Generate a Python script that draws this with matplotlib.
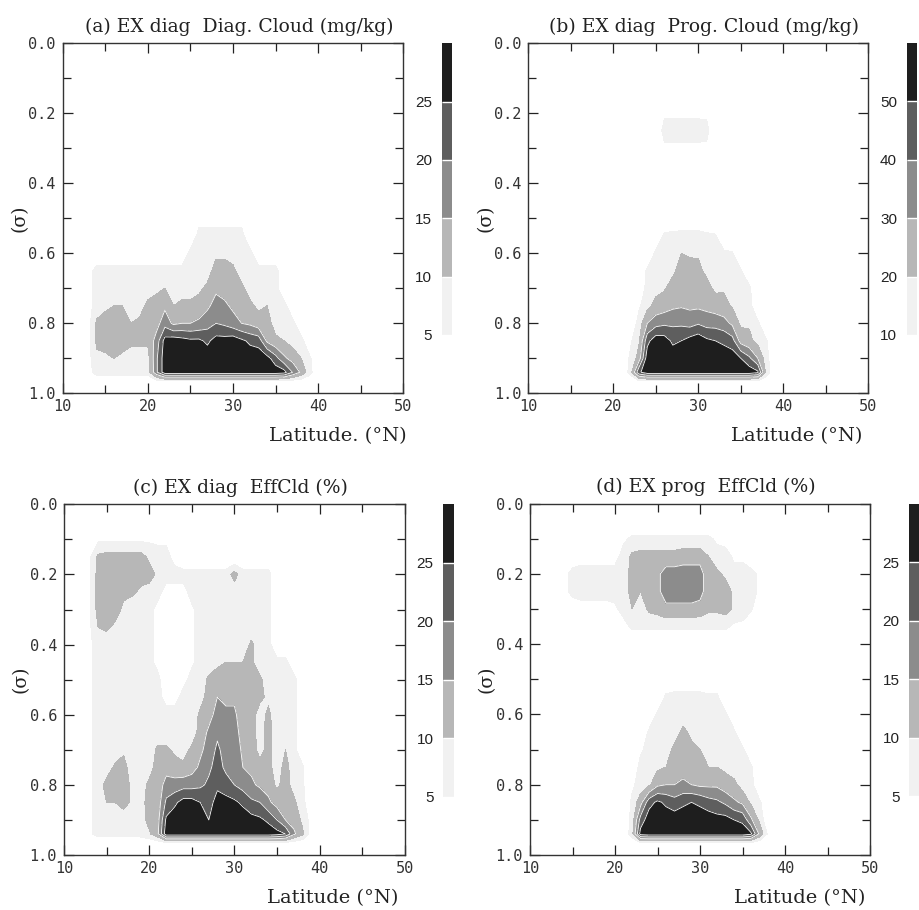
import numpy as np
import matplotlib
matplotlib.use("Agg")
import matplotlib.pyplot as plt
from matplotlib.ticker import MultipleLocator

plt.rcParams["font.family"] = ["Liberation Sans", "DejaVu Sans"]

# grid of the fields: latitude columns (deg N) and sigma levels (top -> bottom)
LAT = [12, 13, 14, 15, 16, 17, 18, 19, 20, 21, 22, 23, 24, 25, 26, 27, 28, 29, 30,
       31, 32, 33, 34, 35, 36, 37, 38, 39, 40]
SIGMA = [0.05, 0.10, 0.15, 0.20, 0.25, 0.30, 0.35, 0.40, 0.45, 0.50,
         0.55, 0.60, 0.65, 0.70, 0.75, 0.80, 0.85, 0.90, 0.94, 0.97]

# (a) EX diag, diagnostic cloud (mg/kg); one row per latitude, values at SIGMA
DIAG_CLOUD = [
    [0, 0, 0, 0, 0, 0, 0, 0, 0, 0, 0, 0, 0, 0, 0, 0, 0, 0, 0, 0],          # 12
    [0, 0, 0, 0, 0, 0, 0, 0, 0, 0, 0, 0, 3, 3, 3, 3, 3, 3, 3, 0],          # 13
    [0, 0, 0, 0, 0, 0, 0, 0, 0, 0, 0, 0, 7, 7, 7, 11, 11, 9, 7, 0],        # 14
    [0, 0, 0, 0, 0, 0, 0, 0, 0, 0, 0, 0, 7, 7, 9, 12, 12, 9, 7, 0],        # 15
    [0, 0, 0, 0, 0, 0, 0, 0, 0, 0, 0, 0, 7, 7, 10, 12, 12, 10, 7, 0],      # 16
    [0, 0, 0, 0, 0, 0, 0, 0, 0, 0, 0, 0, 7, 7, 10, 12, 12, 9, 7, 0],       # 17
    [0, 0, 0, 0, 0, 0, 0, 0, 0, 0, 0, 0, 7, 7, 7, 10, 11, 8, 7, 0],        # 18
    [0, 0, 0, 0, 0, 0, 0, 0, 0, 0, 0, 0, 7, 7, 8, 11, 11, 8, 7, 0],        # 19
    [0, 0, 0, 0, 0, 0, 0, 0, 0, 0, 0, 0, 7, 8, 11, 12, 11, 8, 7, 0],       # 20
    [0, 0, 0, 0, 0, 0, 0, 0, 0, 0, 0, 0, 7, 9, 12, 13, 17, 19, 19, 0],     # 21
    [0, 0, 0, 0, 0, 0, 0, 0, 0, 0, 0, 0, 7, 10, 14, 18, 27, 28, 28, 0],    # 22
    [0, 0, 0, 0, 0, 0, 0, 0, 0, 0, 0, 0, 7, 8, 10, 14, 28, 28, 28, 0],     # 23
    [0, 0, 0, 0, 0, 0, 0, 0, 0, 0, 0, 0, 7, 8, 11, 15, 27, 28, 28, 0],     # 24
    [0, 0, 0, 0, 0, 0, 0, 0, 0, 0, 0, 7, 7, 8, 11, 15, 26, 28, 28, 0],     # 25
    [0, 0, 0, 0, 0, 0, 0, 0, 0, 3, 7, 7, 7, 9, 12, 16, 26, 28, 28, 0],     # 26
    [0, 0, 0, 0, 0, 0, 0, 0, 0, 3, 7, 7, 8, 11, 14, 18, 24, 28, 28, 0],    # 27
    [0, 0, 0, 0, 0, 0, 0, 0, 0, 3, 7, 9, 12, 14, 17, 20, 27, 28, 28, 0],   # 28
    [0, 0, 0, 0, 0, 0, 0, 0, 0, 3, 7, 9, 12, 13, 16, 19, 27, 28, 28, 0],   # 29
    [0, 0, 0, 0, 0, 0, 0, 0, 0, 3, 7, 8, 11, 13, 14, 17, 28, 28, 28, 0],   # 30
    [0, 0, 0, 0, 0, 0, 0, 0, 0, 3, 7, 7, 8, 11, 13, 15, 26, 28, 28, 0],    # 31
    [0, 0, 0, 0, 0, 0, 0, 0, 0, 0, 0, 7, 7, 8, 11, 14, 24, 28, 28, 0],     # 32
    [0, 0, 0, 0, 0, 0, 0, 0, 0, 0, 0, 0, 7, 7, 9, 12, 23, 28, 28, 0],      # 33
    [0, 0, 0, 0, 0, 0, 0, 0, 0, 0, 0, 0, 7, 7, 10, 12, 14, 27, 28, 0],     # 34
    [0, 0, 0, 0, 0, 0, 0, 0, 0, 0, 0, 0, 7, 7, 7, 8, 11, 22, 28, 0],       # 35
    [0, 0, 0, 0, 0, 0, 0, 0, 0, 0, 0, 0, 0, 0, 7, 8, 10, 16, 27, 0],       # 36
    [0, 0, 0, 0, 0, 0, 0, 0, 0, 0, 0, 0, 0, 0, 0, 7, 8, 13, 20, 0],        # 37
    [0, 0, 0, 0, 0, 0, 0, 0, 0, 0, 0, 0, 0, 0, 0, 0, 7, 10, 14, 0],        # 38
    [0, 0, 0, 0, 0, 0, 0, 0, 0, 0, 0, 0, 0, 0, 0, 0, 0, 6, 7, 0],          # 39
    [0, 0, 0, 0, 0, 0, 0, 0, 0, 0, 0, 0, 0, 0, 0, 0, 0, 0, 0, 0],          # 40
]

# (b) EX diag, prognostic cloud (mg/kg)
PROG_CLOUD = [
    [0, 0, 0, 0, 0, 0, 0, 0, 0, 0, 0, 0, 0, 0, 0, 0, 0, 0, 0, 0],           # 12
    [0, 0, 0, 0, 0, 0, 0, 0, 0, 0, 0, 0, 0, 0, 0, 0, 0, 0, 0, 0],           # 13
    [0, 0, 0, 0, 0, 0, 0, 0, 0, 0, 0, 0, 0, 0, 0, 0, 0, 0, 0, 0],           # 14
    [0, 0, 0, 0, 0, 0, 0, 0, 0, 0, 0, 0, 0, 0, 0, 0, 0, 0, 0, 0],           # 15
    [0, 0, 0, 0, 0, 0, 0, 0, 0, 0, 0, 0, 0, 0, 0, 0, 0, 0, 0, 0],           # 16
    [0, 0, 0, 0, 0, 0, 0, 0, 0, 0, 0, 0, 0, 0, 0, 0, 0, 0, 0, 0],           # 17
    [0, 0, 0, 0, 0, 0, 0, 0, 0, 0, 0, 0, 0, 0, 0, 0, 0, 0, 0, 0],           # 18
    [0, 0, 0, 0, 0, 0, 0, 0, 0, 0, 0, 0, 0, 0, 0, 0, 0, 0, 0, 0],           # 19
    [0, 0, 0, 0, 0, 0, 0, 0, 0, 0, 0, 0, 0, 0, 0, 0, 0, 0, 0, 0],           # 20
    [0, 0, 0, 0, 0, 0, 0, 0, 0, 0, 0, 0, 0, 0, 0, 0, 0, 0, 0, 0],           # 21
    [0, 0, 0, 0, 0, 0, 0, 0, 0, 0, 0, 0, 0, 0, 0, 0, 8, 12, 14, 0],         # 22
    [0, 0, 0, 0, 0, 0, 0, 0, 0, 0, 0, 0, 0, 0, 8, 14, 18, 24, 48, 0],       # 23
    [0, 0, 0, 0, 0, 0, 0, 0, 0, 0, 0, 0, 12, 14, 17, 30, 47, 56, 56, 0],    # 24
    [0, 0, 0, 0, 0, 0, 0, 0, 0, 0, 0, 12, 14, 17, 23, 36, 56, 56, 56, 0],   # 25
    [0, 0, 0, 8, 14, 8, 0, 0, 0, 0, 12, 14, 16, 19, 25, 38, 55, 56, 56, 0], # 26
    [0, 0, 0, 8, 14, 8, 0, 0, 0, 0, 13, 15, 18, 24, 28, 38, 48, 56, 56, 0], # 27
    [0, 0, 0, 8, 14, 8, 0, 0, 0, 0, 14, 20, 24, 26, 29, 38, 50, 56, 56, 0], # 28
    [0, 0, 0, 8, 14, 8, 0, 0, 0, 0, 14, 19, 23, 26, 28, 36, 54, 56, 56, 0], # 29
    [0, 0, 0, 8, 14, 8, 0, 0, 0, 0, 14, 19, 22, 25, 28, 39, 57, 56, 56, 0], # 30
    [0, 0, 0, 8, 13, 8, 0, 0, 0, 0, 12, 14, 18, 23, 27, 36, 52, 56, 56, 0], # 31
    [0, 0, 0, 0, 0, 0, 0, 0, 0, 0, 11, 13, 15, 18, 25, 36, 50, 56, 56, 0],  # 32
    [0, 0, 0, 0, 0, 0, 0, 0, 0, 0, 0, 12, 14, 19, 23, 34, 48, 56, 56, 0],   # 33
    [0, 0, 0, 0, 0, 0, 0, 0, 0, 0, 0, 11, 13, 16, 19, 28, 44, 56, 56, 0],   # 34
    [0, 0, 0, 0, 0, 0, 0, 0, 0, 0, 0, 0, 11, 13, 15, 18, 26, 50, 56, 0],    # 35
    [0, 0, 0, 0, 0, 0, 0, 0, 0, 0, 0, 0, 0, 12, 14, 19, 22, 42, 56, 0],     # 36
    [0, 0, 0, 0, 0, 0, 0, 0, 0, 0, 0, 0, 0, 0, 0, 12, 17, 30, 52, 0],       # 37
    [0, 0, 0, 0, 0, 0, 0, 0, 0, 0, 0, 0, 0, 0, 0, 0, 11, 14, 17, 0],        # 38
    [0, 0, 0, 0, 0, 0, 0, 0, 0, 0, 0, 0, 0, 0, 0, 0, 0, 0, 0, 0],           # 39
    [0, 0, 0, 0, 0, 0, 0, 0, 0, 0, 0, 0, 0, 0, 0, 0, 0, 0, 0, 0],           # 40
]

# (c) EX diag, effective cloud (%)
EFFCLD_DIAG = [
    [0, 0, 0, 0, 0, 0, 0, 0, 0, 0, 0, 0, 0, 0, 0, 0, 0, 0, 0, 0],               # 12
    [0, 4, 4, 4, 4, 4, 4, 4, 4, 4, 4, 4, 4, 4, 4, 4, 4, 4, 4, 0],               # 13
    [0, 4, 11, 12, 12, 12, 10, 7, 7, 7, 7, 7, 7, 7, 7, 7, 7, 7, 7, 0],          # 14
    [0, 4, 12, 12, 12, 12, 11, 7, 7, 7, 7, 7, 7, 7, 7, 12, 10, 7, 7, 0],        # 15
    [0, 4, 12, 12, 12, 12, 9, 7, 7, 7, 7, 7, 7, 7, 11, 12, 10, 7, 7, 0],        # 16
    [0, 4, 12, 12, 11, 9, 7, 7, 7, 7, 7, 7, 7, 9, 12, 12, 12, 7, 7, 0],         # 17
    [0, 4, 12, 12, 11, 7, 7, 7, 7, 7, 7, 7, 7, 7, 7, 9, 9, 7, 7, 0],            # 18
    [0, 4, 12, 12, 9, 7, 7, 7, 7, 7, 7, 7, 7, 7, 7, 8, 8, 7, 7, 0],             # 19
    [0, 4, 9, 12, 8, 7, 7, 7, 7, 7, 7, 7, 7, 7, 8, 11, 12, 12, 9, 0],           # 20
    [0, 4, 7, 9, 7, 3, 3, 3, 3, 7, 7, 7, 7, 11, 12, 12, 12, 13, 14, 0],         # 21
    [0, 4, 7, 7, 3, 0, 0, 0, 0, 0, 3, 7, 7, 11, 13, 17, 21, 26, 28, 0],         # 22
    [0, 0, 3, 7, 3, 0, 0, 0, 0, 0, 3, 7, 7, 9, 12, 17, 24, 28, 28, 0],          # 23
    [0, 0, 0, 7, 3, 0, 0, 0, 0, 3, 7, 7, 7, 8, 11, 18, 27, 28, 28, 0],          # 24
    [0, 0, 0, 7, 7, 4, 4, 4, 4, 7, 7, 7, 7, 11, 13, 18, 27, 28, 28, 0],         # 25
    [0, 0, 0, 7, 7, 7, 7, 7, 7, 7, 8, 11, 12, 14, 16, 19, 25, 28, 28, 0],       # 26
    [0, 0, 0, 7, 7, 7, 7, 7, 7, 11, 12, 13, 16, 17, 19, 21, 23, 25, 28, 0],     # 27
    [0, 0, 0, 7, 7, 7, 7, 7, 9, 12, 15, 17, 19, 21, 22, 24, 27, 28, 28, 0],     # 28
    [0, 0, 0, 7, 7, 7, 7, 7, 10, 12, 14, 16, 17, 18, 19, 22, 27, 28, 28, 0],    # 29
    [0, 0, 0, 12, 7, 7, 7, 7, 10, 12, 14, 16, 17, 18, 19, 20, 26, 28, 28, 0],   # 30
    [0, 0, 0, 7, 7, 7, 7, 7, 10, 11, 12, 12, 13, 14, 15, 18, 24, 28, 28, 0],    # 31
    [0, 0, 0, 7, 7, 7, 7, 11, 11, 12, 12, 12, 12, 13, 14, 16, 21, 27, 28, 0],   # 32
    [0, 0, 0, 7, 7, 7, 7, 7, 7, 11, 11, 8, 8, 8, 12, 14, 20, 26, 28, 0],        # 33
    [0, 0, 0, 7, 7, 7, 7, 7, 7, 7, 9, 11, 12, 12, 12, 13, 16, 24, 28, 0],       # 34
    [0, 0, 0, 0, 0, 0, 0, 0, 7, 7, 7, 7, 7, 7, 7, 9, 13, 20, 27, 0],            # 35
    [0, 0, 0, 0, 0, 0, 0, 0, 7, 7, 7, 7, 7, 10, 12, 12, 12, 15, 25, 0],         # 36
    [0, 0, 0, 0, 0, 0, 0, 0, 0, 7, 7, 7, 7, 7, 7, 8, 11, 13, 16, 0],            # 37
    [0, 0, 0, 0, 0, 0, 0, 0, 0, 0, 0, 0, 0, 0, 6, 6, 7, 9, 11, 0],              # 38
    [0, 0, 0, 0, 0, 0, 0, 0, 0, 0, 0, 0, 0, 0, 0, 0, 0, 3, 3, 0],               # 39
    [0, 0, 0, 0, 0, 0, 0, 0, 0, 0, 0, 0, 0, 0, 0, 0, 0, 0, 0, 0],               # 40
]

# (d) EX prog, effective cloud (%)
EFFCLD_PROG = [
    [0, 0, 0, 0, 0, 0, 0, 0, 0, 0, 0, 0, 0, 0, 0, 0, 0, 0, 0, 0],               # 12
    [0, 0, 0, 0, 0, 0, 0, 0, 0, 0, 0, 0, 0, 0, 0, 0, 0, 0, 0, 0],               # 13
    [0, 0, 0, 4, 4, 0, 0, 0, 0, 0, 0, 0, 0, 0, 0, 0, 0, 0, 0, 0],               # 14
    [0, 0, 3, 6, 6, 3, 0, 0, 0, 0, 0, 0, 0, 0, 0, 0, 0, 0, 0, 0],               # 15
    [0, 0, 3, 7, 7, 3, 0, 0, 0, 0, 0, 0, 0, 0, 0, 0, 0, 0, 0, 0],               # 16
    [0, 0, 3, 7, 7, 3, 0, 0, 0, 0, 0, 0, 0, 0, 0, 0, 0, 0, 0, 0],               # 17
    [0, 0, 3, 7, 7, 3, 0, 0, 0, 0, 0, 0, 0, 0, 0, 0, 0, 0, 0, 0],               # 18
    [0, 0, 3, 7, 7, 3, 0, 0, 0, 0, 0, 0, 0, 0, 0, 0, 0, 0, 0, 0],               # 19
    [0, 0, 3, 7, 7, 4, 0, 0, 0, 0, 0, 0, 0, 0, 0, 0, 0, 0, 0, 0],               # 20
    [0, 4, 7, 7, 7, 7, 3, 0, 0, 0, 0, 0, 0, 0, 0, 0, 0, 0, 0, 0],               # 21
    [0, 6, 11, 12, 12, 10, 6, 0, 0, 0, 0, 0, 0, 0, 0, 4, 6, 7, 8, 0],           # 22
    [0, 6, 12, 12, 10, 7, 6, 0, 0, 0, 0, 0, 0, 4, 7, 7, 13, 22, 27, 0],         # 23
    [0, 6, 12, 12, 12, 11, 6, 0, 0, 0, 0, 0, 6, 7, 8, 9, 23, 28, 28, 0],        # 24
    [0, 6, 12, 14, 14, 12, 6, 0, 0, 0, 0, 6, 7, 7, 9, 14, 26, 28, 28, 0],       # 25
    [0, 6, 12, 17, 17, 14, 6, 0, 0, 0, 6, 7, 7, 8, 10, 15, 24, 28, 28, 0],      # 26
    [0, 6, 12, 17, 17, 14, 6, 0, 0, 0, 7, 7, 8, 11, 12, 15, 22, 28, 28, 0],     # 27
    [0, 6, 13, 17, 17, 14, 6, 0, 0, 0, 7, 8, 11, 12, 13, 16, 24, 28, 28, 0],    # 28
    [0, 6, 13, 17, 17, 14, 6, 0, 0, 0, 7, 7, 9, 11, 13, 15, 25, 28, 28, 0],     # 29
    [0, 6, 13, 17, 17, 13, 6, 0, 0, 0, 7, 7, 8, 10, 12, 14, 24, 28, 28, 0],     # 30
    [0, 6, 10, 12, 12, 11, 6, 0, 0, 0, 6, 7, 7, 8, 10, 14, 22, 28, 28, 0],      # 31
    [0, 4, 7, 11, 12, 11, 6, 0, 0, 0, 6, 7, 7, 8, 10, 14, 21, 27, 28, 0],       # 32
    [0, 3, 7, 9, 12, 12, 6, 0, 0, 0, 0, 6, 7, 7, 9, 12, 19, 27, 28, 0],         # 33
    [0, 0, 4, 7, 9, 9, 4, 0, 0, 0, 0, 0, 6, 7, 8, 11, 16, 25, 28, 0],           # 34
    [0, 0, 4, 7, 7, 7, 4, 0, 0, 0, 0, 0, 0, 6, 7, 8, 14, 24, 28, 0],            # 35
    [0, 0, 0, 7, 7, 6, 0, 0, 0, 0, 0, 0, 0, 0, 6, 7, 9, 16, 26, 0],             # 36
    [0, 0, 0, 4, 4, 0, 0, 0, 0, 0, 0, 0, 0, 0, 0, 0, 6, 9, 14, 0],              # 37
    [0, 0, 0, 0, 0, 0, 0, 0, 0, 0, 0, 0, 0, 0, 0, 0, 0, 0, 4, 0],               # 38
    [0, 0, 0, 0, 0, 0, 0, 0, 0, 0, 0, 0, 0, 0, 0, 0, 0, 0, 0, 0],               # 39
    [0, 0, 0, 0, 0, 0, 0, 0, 0, 0, 0, 0, 0, 0, 0, 0, 0, 0, 0, 0],               # 40
]

TITLES = ["(a) EX diag  Diag. Cloud (mg/kg)", "(b) EX diag  Prog. Cloud (mg/kg)",
          "(c) EX diag  EffCld (%)", "(d) EX prog  EffCld (%)"]
XLABELS = ["Latitude. (°N)", "Latitude (°N)", "Latitude (°N)", "Latitude (°N)"]
LEVELS_5 = [0, 5, 10, 15, 20, 25, 30]
LEVELS_10 = [0, 10, 20, 30, 40, 50, 60]
X_TICKS = [10, 20, 30, 40, 50]
Y_TICKS = [0.0, 0.2, 0.4, 0.6, 0.8, 1.0]

GRAYS = ["#ffffff", "#f1f1f1", "#b7b7b7", "#8c8c8c", "#5e5e5e", "#1e1e1e"]
MONO = "DejaVu Sans Mono"
SERIF = "DejaVu Serif"

W, H = 919, 910
fig = plt.figure(figsize=(W / 100, H / 100), dpi=100)
fig.patch.set_facecolor("white")

def fx(px):
    return px / W

def fy(py):
    return 1 - py / H

# axes boxes in pixels: left, right, top, bottom ; colorbar left ; x-label anchor
panels = [
    (DIAG_CLOUD, LEVELS_5, (62.7, 403.3, 43.3, 393.3), 441.7, 1.011),
    (PROG_CLOUD, LEVELS_10, (528.3, 868.3, 43.0, 393.3), 906.7, 0.984),
    (EFFCLD_DIAG, LEVELS_5, (64.0, 404.7, 504.3, 855.0), 443.3, 0.980),
    (EFFCLD_PROG, LEVELS_5, (530.0, 870.0, 503.5, 855.0), 909.3, 0.985),
]

for i, (data, levels, (l, r, t, b), cbl, xlab_x) in enumerate(panels):
    ax = fig.add_axes([fx(l), fy(b), fx(r - l), (b - t) / H])
    field = np.array(data, dtype=float).T
    cf = ax.contourf(LAT, SIGMA, field, levels=levels, colors=GRAYS)
    ax.contour(LAT, SIGMA, field, levels=levels[3:6], colors="white", linewidths=0.6)

    ax.set_xlim(10, 50)
    ax.set_ylim(1.0, 0.0)
    ax.set_xticks(X_TICKS)
    ax.set_xticklabels([str(v) for v in X_TICKS], fontfamily=MONO, fontsize=11)
    ax.xaxis.set_minor_locator(MultipleLocator(5))
    ax.set_yticks(Y_TICKS)
    ax.set_yticklabels([f"{v:.1f}" for v in Y_TICKS], fontfamily=MONO, fontsize=11)
    ax.yaxis.set_minor_locator(MultipleLocator(0.1))
    ax.tick_params(which="both", direction="in", top=True, right=True,
                   width=0.9, color="#222222", labelcolor="#333333")
    ax.tick_params(which="major", length=7.5)
    ax.tick_params(which="minor", length=6)
    ax.tick_params(axis="x", pad=4)
    ax.tick_params(axis="y", pad=5)
    for sp in ax.spines.values():
        sp.set_linewidth(1.0)
        sp.set_color("#333333")

    ax.set_title(TITLES[i], fontfamily=SERIF, fontsize=13.5, pad=8, x=0.517,
                 color="#222222")
    ax.text(xlab_x, -0.123, XLABELS[i], transform=ax.transAxes, ha="right",
            va="center", fontfamily=SERIF, fontsize=14, color="#222222")
    ax.text(-0.127, 0.5, "(σ)", transform=ax.transAxes, rotation=90,
            ha="center", va="center", fontfamily=SERIF, fontsize=13.5,
            color="#222222")

    cax = fig.add_axes([fx(cbl), fy(b), fx(10.6), (b - t) / H])
    cb = fig.colorbar(cf, cax=cax, ticks=levels[1:6], drawedges=True)
    cb.outline.set_visible(False)
    cb.dividers.set_color("white")
    cb.dividers.set_linewidth(1.0)
    cax.yaxis.set_ticks_position("left")
    cax.tick_params(length=0, pad=7, labelsize=11, labelcolor="#222222")

fig.savefig("out.png", dpi=100, facecolor="white")
